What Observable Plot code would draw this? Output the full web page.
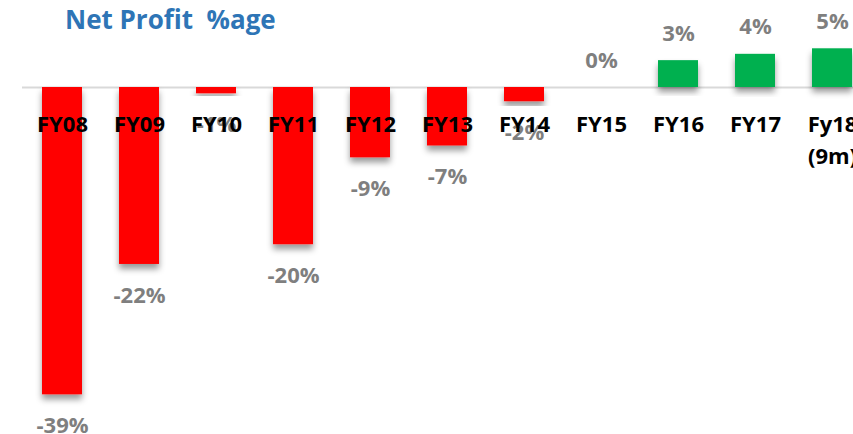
<!DOCTYPE html>
<html>
<head>
<meta charset="utf-8">
<script src="https://cdn.jsdelivr.net/npm/d3@7"></script>
<script src="https://cdn.jsdelivr.net/npm/@observablehq/plot@0.6"></script>
<style>
  html, body { margin: 0; padding: 0; background: #fff; overflow: hidden; }
  #wrap { position: relative; width: 853px; height: 434px; overflow: hidden; }
  #title {
    position: absolute; left: 65px; top: 6px; margin: 0;
    font-family: "Open Sans", sans-serif; font-weight: 700; font-size: 26px;
    line-height: 26px; color: #2E75B6; white-space: pre; z-index: 2;
  }
</style>
</head>
<body>
<div id="wrap">
  <div id="title">Net Profit  %age</div>
  <div id="chart"></div>
</div>
<script>
const categories = ["FY08", "FY09", "FY10", "FY11", "FY12", "FY13", "FY14", "FY15", "FY16", "FY17", "Fy18\n(9m)"];
const values = [-38.9, -22.4, -0.8, -19.9, -8.9, -7.4, -1.8, 0, 3.4, 4.2, 4.9];

const data = categories.map((c, i) => ({category: c, value: values[i]}));
const fmt = v => `${Math.round(v) === 0 ? 0 : Math.round(v)}%`;
const font = "'Open Sans', sans-serif";

const chart = Plot.plot({
  width: 873,
  height: 434,
  marginLeft: 22,
  marginRight: 0,
  marginTop: 0,
  marginBottom: 0,
  style: {background: "transparent", maxWidth: "none", overflow: "visible"},
  x: {domain: categories, paddingInner: 0.48, paddingOuter: 0.253, axis: null},
  y: {domain: [-40, 10], range: [403, 8], axis: null},
  marks: [
    Plot.ruleY([0], {stroke: "#D9D9D9", strokeWidth: 2}),
    Plot.barY(data, {
      x: "category", y: "value",
      fill: d => d.value < 0 ? "#FF0000" : "#00B050"
    }),
    Plot.text(data.filter(d => d.value < 0), {
      x: "category", y: "value", text: d => fmt(d.value),
      dy: 31, fill: "#7F7F7F", fontWeight: 700, fontSize: 22, fontFamily: font
    }),
    Plot.text(data.filter(d => d.value >= 0), {
      x: "category", y: "value", text: d => fmt(d.value),
      dy: -27, fill: "#7F7F7F", fontWeight: 700, fontSize: 22, fontFamily: font
    }),
    Plot.text(data, {
      x: "category", text: "category", frameAnchor: "top", lineAnchor: "top",
      dy: 109, lineHeight: 1.45, fill: "#000000", fontWeight: 700, fontSize: 22, fontFamily: font
    })
  ]
});

// soft drop shadow under the bars, as in the reference
const svg = d3.select(chart);
const defs = svg.insert("defs", ":first-child");
const f = defs.append("filter").attr("id", "barShadow")
  .attr("x", "-30%").attr("y", "-30%").attr("width", "160%").attr("height", "160%");
f.append("feDropShadow").attr("dx", 0).attr("dy", 5).attr("stdDeviation", 3)
  .attr("flood-color", "#000").attr("flood-opacity", 0.4);
svg.selectAll("g[aria-label='bar'] rect").attr("filter", "url(#barShadow)");

document.getElementById("chart").appendChild(chart);
</script>
</body>
</html>
